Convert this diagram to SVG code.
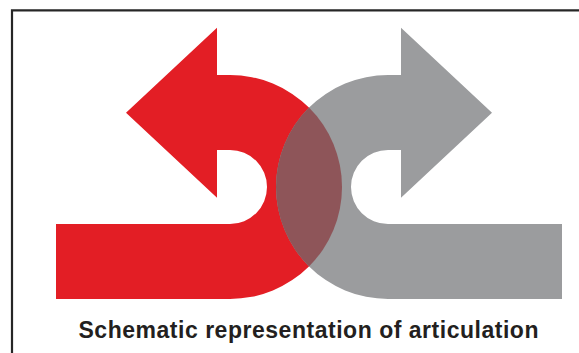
<svg xmlns="http://www.w3.org/2000/svg" width="579" height="353" viewBox="0 0 579 353">
  <style>
    .frame { fill: none; stroke: #262626; stroke-width: 2.2; }
    .red { fill: #E31E25; }
    .grey { fill: #9B9C9E; }
    .lens { fill: #8E5559; }
    .caption { font-family: "Liberation Sans", Arial, sans-serif; font-weight: bold; font-size: 23px; fill: #231F20; }
  </style>
  <rect width="579" height="353" fill="#FFFFFF"/>
  <g id="frame">
    <path class="frame" d="M12,354 L12,10.3 L580,10.3"/>
  </g>
  <g id="red-arrow">
    <path class="red" d="M217,27.7 L126,112.7 L217,197.7 L217,150 L230,150 A37,37 0 0 1 230,224 L56,224 L56,299 L230,299 A112,112 0 0 0 230,75 L217,75 Z"/>
  </g>
  <g id="grey-arrow">
    <path class="grey" d="M401,27.7 L492,112.7 L401,197.7 L401,150 L388,150 A37,37 0 0 0 388,224 L562,224 L562,299 L388,299 A112,112 0 0 1 388,75 L401,75 Z"/>
  </g>
  <g id="overlap">
    <path class="lens" d="M309,107.6 A112,112 0 0 1 309,266.4 A112,112 0 0 1 309,107.6 Z"/>
  </g>
  <g id="caption">
    <text class="caption" x="308.5" y="337.5" text-anchor="middle" textLength="460" lengthAdjust="spacing">Schematic representation of articulation</text>
  </g>
</svg>
